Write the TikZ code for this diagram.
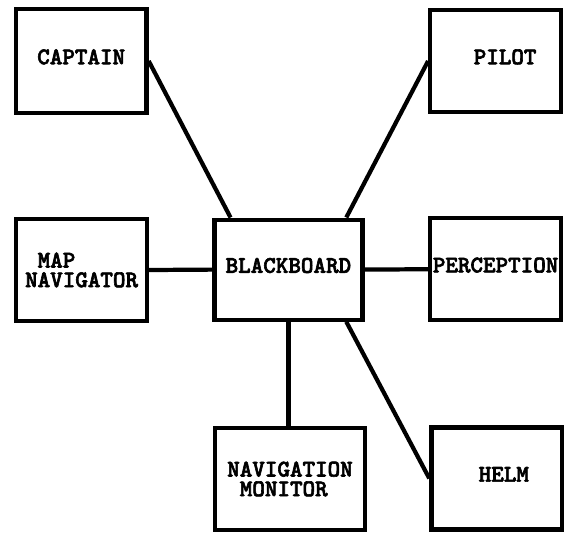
\documentclass[tikz,border=0pt]{standalone}
\usepackage{fontspec}
\newfontfamily\unitfont{lmmonolt10-bold.otf}[FakeBold=2.5]
\usepackage{tikz}

\begin{document}
\begin{tikzpicture}[
  unit/.style={draw=black, line width=3pt, inner sep=0pt, minimum width=3.27cm, minimum height=2.55cm, font=\unitfont\fontsize{17}{14}\selectfont},
  oneline/.style={text height=0.36cm, text depth=0.2cm},
  twoline/.style={align=left},
  link/.style={draw=black, line width=3pt}]
\useasboundingbox (0,0) rectangle (14.125,-13.325);
% top row
\node[unit, oneline, minimum height=2.6cm] (captain) at (2.03,-1.525) {CAPTAIN};
\node[unit, oneline] (pilot) at (12.39,-1.525) {\hspace*{0.475cm}PILOT};
% middle row
\node[unit, twoline] (mapnav) at (2.04,-6.75) {\hphantom{N}MAP\\NAVIGATOR};
\node[unit, oneline, minimum width=3.7cm, minimum height=2.5cm] (blackboard) at (7.21,-6.74) {BLACKBOARD};
\node[unit, oneline] (perception) at (12.39,-6.73) {PERCEPTION};
% bottom row
\node[unit, twoline, minimum width=3.75cm] (navmon) at (7.25,-11.975) {NAVIGATION\\\hphantom{N}MONITOR};
\node[unit, oneline] (helm) at (12.42,-11.96) {\hspace*{0.35cm}HELM};
% links to the blackboard
\draw[link] (captain.east) -- (blackboard.138);
\draw[link] (blackboard.42) -- (pilot.west);
\draw[link] (mapnav.east) -- (blackboard.west);
\draw[link] (blackboard.east) -- (perception.west);
\draw[link] (blackboard.south) -- (blackboard.south |- navmon.north);
\draw[link] (blackboard.-42) -- (helm.west);
\end{tikzpicture}
\end{document}
